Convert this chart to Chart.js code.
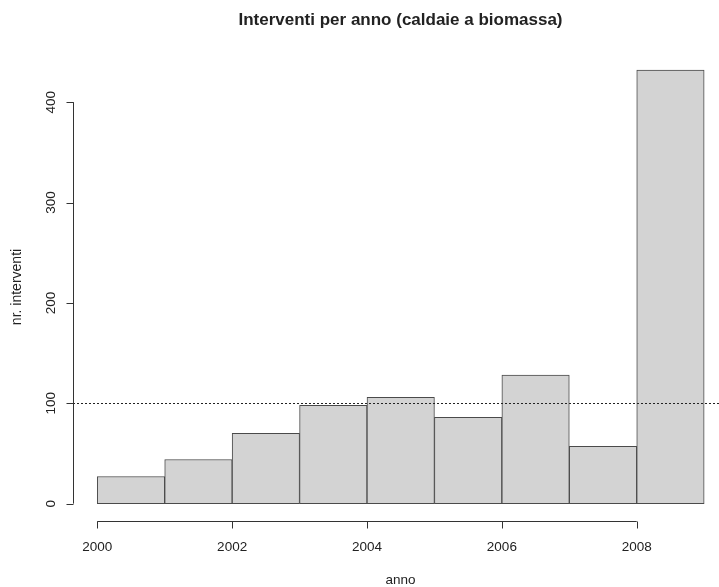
<!DOCTYPE html>
<html>
<head>
<meta charset="utf-8">
<script src="https://cdn.jsdelivr.net/npm/chart.js@4/dist/chart.umd.min.js"></script>
<style>
  html, body { margin: 0; padding: 0; background: #fff; }
  canvas { display: block; }
</style>
</head>
<body>
<canvas id="histChart" width="719" height="587"></canvas>
<script>
/* DATA */
const years = [2000, 2001, 2002, 2003, 2004, 2005, 2006, 2007, 2008];
const interventi = [27, 44, 70, 98, 106, 86, 128, 57, 432];
const xTicks = [2000, 2002, 2004, 2006, 2008];
const yTicks = [0, 100, 200, 300, 400];
const soglia = 100;

const titleText = "Interventi per anno (caldaie a biomassa)";
const xLabel = "anno";
const yLabel = "nr. interventi";

const FONT = "'Liberation Sans', Arial, sans-serif";
const INK = "#222";

/* R-style axes, title and the dashed reference line */
const rAxes = {
    id: "rAxes",
    afterDatasetsDraw(chart) {
        const ctx = chart.ctx;
        const xs = chart.scales.x;
        const ys = chart.scales.y;
        const area = chart.chartArea;
        const midX = (area.left + 728) / 2;

        ctx.save();
        ctx.strokeStyle = "#333";
        ctx.fillStyle = INK;
        ctx.lineWidth = 1;

        // dashed line
        ctx.setLineDash([2, 2]);
        ctx.strokeStyle = "#222";
        const yl = Math.round(ys.getPixelForValue(soglia)) + 0.5;
        ctx.beginPath();
        ctx.moveTo(area.left, yl);
        ctx.lineTo(chart.width, yl);
        ctx.stroke();
        ctx.setLineDash([]);
        ctx.strokeStyle = "#333";

        // x axis
        const xAxisY = Math.round(area.bottom) + 0.5;
        const x0 = xs.getPixelForValue(xTicks[0]);
        const x1 = xs.getPixelForValue(xTicks[xTicks.length - 1]);
        ctx.beginPath();
        ctx.moveTo(x0, xAxisY);
        ctx.lineTo(x1, xAxisY);
        xTicks.forEach(t => {
            const px = Math.round(xs.getPixelForValue(t)) + 0.5;
            ctx.moveTo(px, xAxisY);
            ctx.lineTo(px, xAxisY + 7);
        });
        ctx.stroke();
        ctx.font = "13.5px " + FONT;
        ctx.textAlign = "center";
        ctx.textBaseline = "middle";
        xTicks.forEach(t => ctx.fillText(String(t), xs.getPixelForValue(t), xAxisY + 26));
        ctx.fillText(xLabel, midX, 580);

        // y axis
        const yAxisX = Math.round(area.left) + 0.5;
        const ya = ys.getPixelForValue(yTicks[0]);
        const yb = ys.getPixelForValue(yTicks[yTicks.length - 1]);
        ctx.beginPath();
        ctx.moveTo(yAxisX, ya);
        ctx.lineTo(yAxisX, yb);
        yTicks.forEach(t => {
            const py = Math.round(ys.getPixelForValue(t)) + 0.5;
            ctx.moveTo(yAxisX, py);
            ctx.lineTo(yAxisX - 7, py);
        });
        ctx.stroke();
        yTicks.forEach(t => {
            ctx.save();
            ctx.translate(51, ys.getPixelForValue(t));
            ctx.rotate(-Math.PI / 2);
            ctx.fillText(String(t), 0, 0);
            ctx.restore();
        });
        ctx.save();
        ctx.translate(17, (area.top + area.bottom) / 2);
        ctx.rotate(-Math.PI / 2);
        ctx.font = "14px " + FONT;
        ctx.fillText(yLabel, 0, 0);
        ctx.restore();

        // title
        ctx.font = "bold 17px " + FONT;
        ctx.fillText(titleText, midX, 20);

        ctx.restore();
    }
};

/* CHART */
const histChart = new Chart(document.getElementById("histChart"), {
    type: "bar",
    data: {
        datasets: [{
            data: years.map((y, i) => ({ x: y + 0.5, y: interventi[i] })),
            backgroundColor: "#d3d3d3",
            borderColor: "#4a4a4a",
            borderWidth: 1,
            borderSkipped: false,
            barPercentage: 1,
            categoryPercentage: 1
        }]
    },
    options: {
        responsive: false,
        animation: false,
        layout: { padding: { left: 73, top: 53, right: 0, bottom: 66 } },
        plugins: { legend: { display: false }, tooltip: { enabled: false } },
        scales: {
            x: { type: "linear", display: false, min: 1999.64, max: 2009.22, offset: false },
            y: { type: "linear", display: false, min: -17.3, max: 449 }
        }
    },
    plugins: [rAxes]
});
</script>
</body>
</html>
